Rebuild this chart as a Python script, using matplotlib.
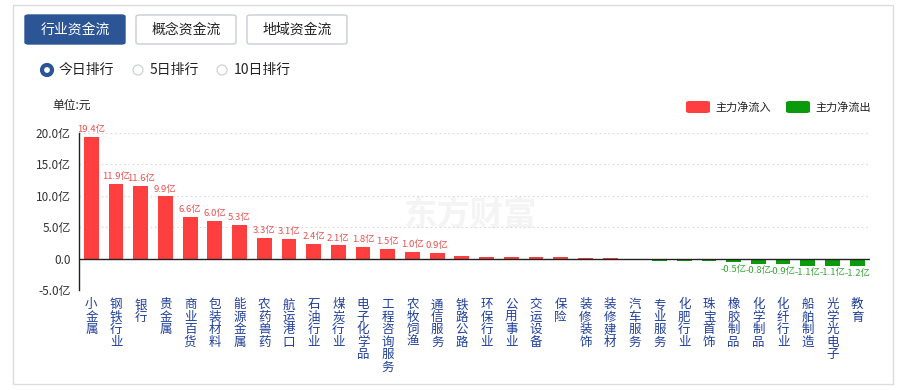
import matplotlib
matplotlib.use("Agg")
import matplotlib.pyplot as plt
from matplotlib.patches import FancyBboxPatch, Rectangle, Ellipse

plt.rcParams['font.family'] = ['Noto Sans CJK SC', 'DejaVu Sans']

RED, GREEN, BLUE, NAVY = "#fd3f3f", "#0b9a0b", "#2c5596", "#1f3f99"

industries = ["小金属", "钢铁行业", "银行", "贵金属", "商业百货", "包装材料", "能源金属",
              "农药兽药", "航运港口", "石油行业", "煤炭行业", "电子化学品", "工程咨询服务",
              "农牧饲渔", "通信服务", "铁路公路", "环保行业", "公用事业", "交运设备", "保险",
              "装修装饰", "装修建材", "汽车服务", "专业服务", "化肥行业", "珠宝首饰",
              "橡胶制品", "化学制品", "化纤行业", "船舶制造", "光学光电子", "教育"]
net_flow = [19.4, 11.9, 11.6, 9.9, 6.6, 6.0, 5.3, 3.3, 3.1, 2.4, 2.1, 1.8, 1.5, 1.0, 0.9,
            0.4, 0.3, 0.3, 0.3, 0.2, 0.15, 0.02, -0.05, -0.38, -0.38, -0.38,
            -0.5, -0.8, -0.9, -1.1, -1.1, -1.2]
y_ticks = [-5, 0, 5, 10, 15, 20]
y_labels = ["-5.0亿", "0.0", "5.0亿", "10.0亿", "15.0亿", "20.0亿"]

W, H = 897, 390
fig = plt.figure(figsize=(W / 100, H / 100), dpi=100)

def fx(px): return px / W
def fy(py): return 1 - py / H

# card border
fig.patches.append(Rectangle((fx(13), fy(384)), fx(880), (384 - 5) / H, transform=fig.transFigure,
                             facecolor="white", edgecolor="#dcdcdc", lw=1, zorder=0))

# tab buttons
tabs = [("行业资金流", 25, True), ("概念资金流", 136, False), ("地域资金流", 247, False)]
for label, x0, active in tabs:
    fig.patches.append(FancyBboxPatch((fx(x0), fy(44)), fx(100), 29 / H,
                                      boxstyle="round,pad=0,rounding_size=0.004",
                                      transform=fig.transFigure,
                                      facecolor=BLUE if active else "white",
                                      edgecolor=BLUE if active else "#c8ccd4", lw=1))
    fig.text(fx(x0 + 50), fy(30), label, ha="center", va="center", fontsize=10,
             color="white" if active else "#222")

# radio buttons
radios = [("今日排行", 47, True), ("5日排行", 138, False), ("10日排行", 222, False)]
for label, cx, on in radios:
    fig.patches.append(Ellipse((fx(cx), fy(70)), 10 / W, 10 / H, transform=fig.transFigure,
                               facecolor="white", edgecolor=BLUE if on else "#c8ccd4",
                               lw=3 if on else 0.8))
    fig.text(fx(cx + 12), fy(70), label, ha="left", va="center", fontsize=10, color="#222")

fig.text(fx(52), fy(105), "单位:元", ha="left", va="center", fontsize=8.5, color="#222")

# legend
for label, x0, c in [("主力净流入", 686, RED), ("主力净流出", 786, GREEN)]:
    fig.patches.append(FancyBboxPatch((fx(x0), fy(113)), fx(24), 12 / H,
                                      boxstyle="round,pad=0,rounding_size=0.004",
                                      transform=fig.transFigure, facecolor=c, edgecolor="none"))
    fig.text(fx(x0 + 29), fy(107), label, ha="left", va="center", fontsize=8, color="#222")

# watermark
fig.text(fx(470), fy(216), "东方财富", ha="center", va="center", fontsize=24,
         fontweight="bold", color="#f4f4f4", zorder=0)

ax = fig.add_axes([fx(79), fy(290), fx(869.5 - 79), (290 - 133) / H])
ax.set_zorder(5)
ax.set_facecolor("none")
x = list(range(len(industries)))
colors = [RED if v >= 0 else GREEN for v in net_flow]
ax.bar(x, net_flow, width=0.6, color=colors, zorder=3)

for i, v in enumerate(net_flow):
    if v >= 0.5:
        ax.text(i, v + 0.45, f"{v:.1f}亿", ha="center", va="bottom", fontsize=6.8, color="#e85050")
    elif v <= -0.5:
        ax.text(i, v - 0.45, f"{v:.1f}亿", ha="center", va="top", fontsize=6.8, color="#3aa53a")

ax.set_xlim(-0.5, len(industries) - 0.5)
ax.set_ylim(-5, 20)
ax.set_yticks(y_ticks)
ax.set_yticklabels(y_labels, fontsize=8.5, color="#333")
for t in [5, 10, 15, 20, -5]:
    ax.axhline(t, color="#d8d8d8", lw=0.8, ls=(0, (1.5, 2.5)), zorder=1)
ax.axhline(0, color="#222", lw=1, zorder=4)

ax.set_xticks(x)
ax.set_xticklabels(["\n".join(n) for n in industries], fontsize=9, color=NAVY,
                   va="top", linespacing=0.95)
ax.tick_params(axis="both", length=0)
ax.tick_params(axis="x", pad=6)
ax.tick_params(axis="y", pad=6)
for s in ["top", "right", "bottom"]:
    ax.spines[s].set_visible(False)
ax.spines["left"].set_color("#222")
ax.spines["left"].set_linewidth(1)

fig.savefig("out.png", dpi=100)
